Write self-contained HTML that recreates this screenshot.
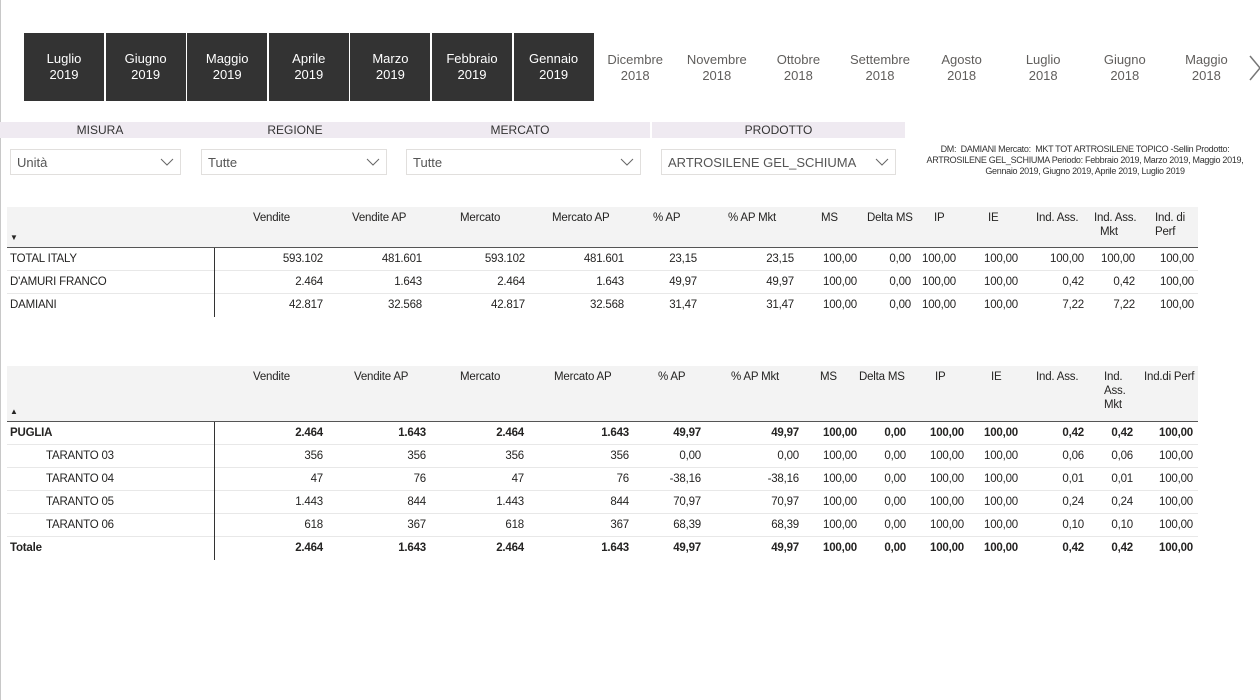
<!DOCTYPE html>
<html><head><meta charset="utf-8">
<style>
body{margin:0;width:1260px;height:700px;background:#fff;font-family:"Liberation Sans",sans-serif;position:relative;overflow:hidden;color:#252423}
.abs{position:absolute}
.tab{position:absolute;top:34px;width:80px;height:68px;display:flex;align-items:center;justify-content:center;text-align:center;font-size:13px;line-height:16px;color:#605e5c}
.tab.sel{background:#333;color:#fff;top:33px}
.shead{position:absolute;top:122px;height:16px;background:#efeaf1;font-size:12px;line-height:16px;text-align:center;color:#333}
.dd{position:absolute;top:149px;height:26px;border:1px solid #e1dfdd;box-sizing:border-box;font-size:13px;line-height:26px;padding-left:6px;color:#555}
.dd svg{position:absolute;right:6px;top:8px}
.t{position:absolute;font-size:11.5px;white-space:nowrap;letter-spacing:-0.2px}
</style></head>
<body>
<div class="abs" style="left:0;top:0;width:1px;height:700px;background:#c8c8c8"></div>
<div id="tabs"></div>
<svg class="abs" style="left:1248px;top:54px" width="14" height="28"><path d="M2 2 L12 14 L2 26" fill="none" stroke="#777" stroke-width="1.5"/></svg>

<div class="shead" style="left:0;width:200px">MISURA</div>
<div class="shead" style="left:200px;width:190px">REGIONE</div>
<div class="shead" style="left:390px;width:260px">MERCATO</div>
<div class="shead" style="left:652px;width:253px">PRODOTTO</div>

<div class="dd" style="left:10px;width:171px">Unità<svg width="14" height="9"><path d="M1 1 L7 7 L13 1" fill="none" stroke="#666"/></svg></div>
<div class="dd" style="left:201px;width:186px">Tutte<svg width="14" height="9"><path d="M1 1 L7 7 L13 1" fill="none" stroke="#666"/></svg></div>
<div class="dd" style="left:406px;width:235px">Tutte<svg width="14" height="9"><path d="M1 1 L7 7 L13 1" fill="none" stroke="#666"/></svg></div>
<div class="dd" style="left:661px;width:235px">ARTROSILENE GEL_SCHIUMA<svg width="14" height="9"><path d="M1 1 L7 7 L13 1" fill="none" stroke="#666"/></svg></div>

<div class="abs" style="left:905px;top:144px;width:360px;text-align:center;font-size:9px;line-height:11px;color:#333;letter-spacing:-0.3px">DM:&nbsp; DAMIANI Mercato:&nbsp; MKT TOT ARTROSILENE TOPICO -Sellin Prodotto:<br>ARTROSILENE GEL_SCHIUMA Periodo: Febbraio 2019, Marzo 2019, Maggio 2019,<br>Gennaio 2019, Giugno 2019, Aprile 2019, Luglio 2019</div>

<div id="t1"></div>
<div id="t2"></div>

<script>
const months=["Luglio","Giugno","Maggio","Aprile","Marzo","Febbraio","Gennaio","Dicembre","Novembre","Ottobre","Settembre","Agosto","Luglio","Giugno","Maggio"];
const years=["2019","2019","2019","2019","2019","2019","2019","2018","2018","2018","2018","2018","2018","2018","2018"];
const selectedCount=7;

const headers1=["Vendite","Vendite AP","Mercato","Mercato AP","% AP","% AP Mkt","MS","Delta MS","IP","IE","Ind. Ass.","Ind. Ass.<br>&nbsp;&nbsp;Mkt","Ind. di<br>Perf"];
const rowLabels1=["TOTAL ITALY","D'AMURI FRANCO","DAMIANI"];
const rowValues1=[
["593.102","481.601","593.102","481.601","23,15","23,15","100,00","0,00","100,00","100,00","100,00","100,00","100,00"],
["2.464","1.643","2.464","1.643","49,97","49,97","100,00","0,00","100,00","100,00","0,42","0,42","100,00"],
["42.817","32.568","42.817","32.568","31,47","31,47","100,00","0,00","100,00","100,00","7,22","7,22","100,00"]];

const headers2=["Vendite","Vendite AP","Mercato","Mercato AP","% AP","% AP Mkt","MS","Delta MS","IP","IE","Ind. Ass.","Ind.<br>Ass.<br>Mkt","Ind.di Perf"];
const rowLabels2=["PUGLIA","TARANTO 03","TARANTO 04","TARANTO 05","TARANTO 06","Totale"];
const rowBold2=[true,false,false,false,false,true];
const rowIndent2=[0,1,1,1,1,0];
const rowValues2=[
["2.464","1.643","2.464","1.643","49,97","49,97","100,00","0,00","100,00","100,00","0,42","0,42","100,00"],
["356","356","356","356","0,00","0,00","100,00","0,00","100,00","100,00","0,06","0,06","100,00"],
["47","76","47","76","-38,16","-38,16","100,00","0,00","100,00","100,00","0,01","0,01","100,00"],
["1.443","844","1.443","844","70,97","70,97","100,00","0,00","100,00","100,00","0,24","0,24","100,00"],
["618","367","618","367","68,39","68,39","100,00","0,00","100,00","100,00","0,10","0,10","100,00"],
["2.464","1.643","2.464","1.643","49,97","49,97","100,00","0,00","100,00","100,00","0,42","0,42","100,00"]];

// layout (not data)
const right1=[323,422,525,624,697,794,857,911,956,1018,1084,1135,1194];
const hx1=[253,352,460,552,653,728,821,867,934,988,1036,1094,1155];
const right2=[323,426,524,629,701,799,857,906,964,1018,1084,1133,1193];
const hx2=[253,354,460,554,658,731,820,859,935,991,1036,1104,1144];

const tabs=document.getElementById('tabs');
months.forEach((m,i)=>{
  const d=document.createElement('div');
  d.className='tab'+(i<selectedCount?' sel':'');
  d.style.left=(24+i*81.6)+'px';
  d.innerHTML=m+'<br>'+years[i];
  
  
  tabs.appendChild(d);
});

function txt(parent,x,y,html,opts){
  const s=document.createElement('div');
  s.className='t';
  s.innerHTML=html;
  s.style.top=y+'px';
  if(opts&&opts.right!=null){s.style.right=(1260-opts.right)+'px';}else{s.style.left=x+'px';}
  if(opts&&opts.bold)s.style.fontWeight='bold';
  if(opts&&opts.lh)s.style.lineHeight=opts.lh;
  parent.appendChild(s);
  return s;
}
function box(parent,l,t,w,h,bg){
  const b=document.createElement('div');
  b.className='abs';b.style.cssText+=`left:${l}px;top:${t}px;width:${w}px;height:${h}px;background:${bg}`;
  parent.appendChild(b);return b;
}

function table(el,top,headH,rowH,headers,hx,labels,values,right,bold,indent,arrow){
  const hb=box(el,7,top,1191,headH,'#f3f3f3');
  
  
  box(el,7,top+headH,1191,1,'#555');
  headers.forEach((h,i)=>{const s=txt(el,hx[i],top+4,h,{lh:'14px'});
    
    });
  const a=txt(el,10,top+headH-14,arrow);
  a.style.fontSize='8px';
  const bodyTop=top+headH+1;
  box(el,7,bodyTop,207,values.length*rowH,'#fff');
  labels.forEach((lab,r)=>{
    const y=bodyTop+r*rowH;
    if(r<labels.length-1)box(el,7,y+rowH-1,1191,1,'#e8e8e8');
    const b=bold?bold[r]:false;
    const l=txt(el,10+(indent?indent[r]*36:0),y+5,lab,{bold:b});
    
    
    values[r].forEach((v,c)=>{
      const s=txt(el,0,y+5,v,{right:right[c],bold:b});
      
      
    });
  });
  box(el,214,bodyTop,1,values.length*rowH,'#333');
}
table(document.getElementById('t1'),207,40,23,headers1,hx1,rowLabels1,rowValues1,right1,null,null,'&#9660;');
table(document.getElementById('t2'),366,55,23,headers2,hx2,rowLabels2,rowValues2,right2,rowBold2,rowIndent2,'&#9650;');
</script>
</body></html>
